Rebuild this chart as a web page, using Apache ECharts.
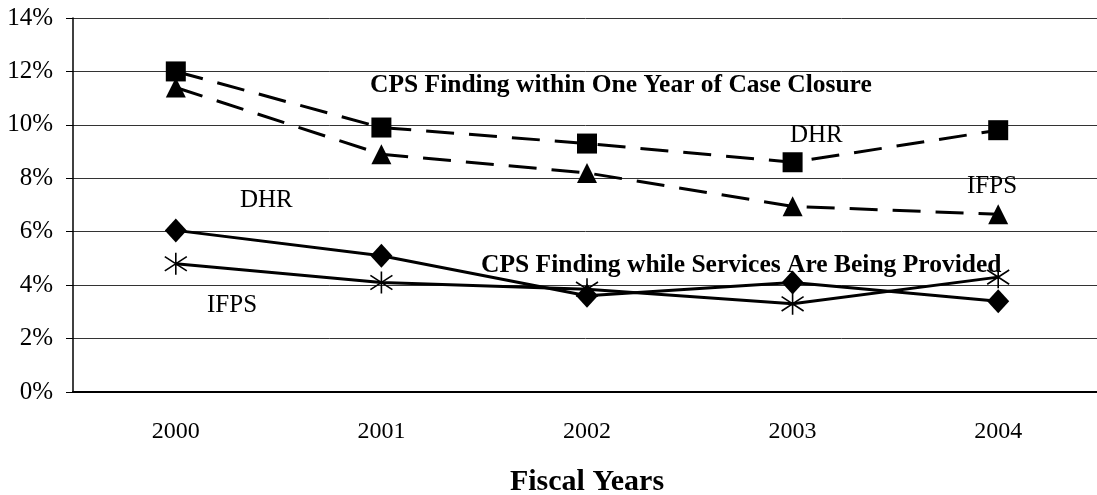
<!DOCTYPE html>
<html>
<head>
<meta charset="utf-8">
<script src="https://cdn.jsdelivr.net/npm/echarts@6/dist/echarts.min.js"></script>
<style>
  html, body { margin: 0; padding: 0; background: #fff; }
  #chart { width: 1097px; height: 495px; }
</style>
</head>
<body>
<div id="chart"></div>
<script>
const years = ['2000', '2001', '2002', '2003', '2004']
const yTicks = [0, 2, 4, 6, 8, 10, 12, 14]

// percent of families with a CPS finding
const dhrAfterClosure = [12.0, 9.9, 9.3, 8.6, 9.8]
const ifpsAfterClosure = [11.4, 8.9, 8.2, 6.95, 6.65]
const dhrDuringServices = [6.05, 5.1, 3.6, 4.1, 3.4]
const ifpsDuringServices = [4.8, 4.1, 3.85, 3.3, 4.3]

const FONT = '"Liberation Serif", serif'
const asterisk = 'path://M10,0 L10,20 M0,3.5 L20,16.5 M0,16.5 L20,3.5'

const chart = echarts.init(document.getElementById('chart'))

const dashedSeries = (name, data, symbol) => ({
  name,
  type: 'line',
  data,
  symbol,
  symbolSize: 20,
  itemStyle: { color: '#000' },
  lineStyle: { color: '#000', width: 3, type: [28, 15] },
  z: 3
})

const option = {
  animation: false,
  grid: {
    left: 73,
    right: -4,
    top: 18,
    bottom: 103,
    outerBoundsMode: 'none'
  },
  xAxis: {
    type: 'category',
    data: years,
    boundaryGap: true,
    name: 'Fiscal Years',
    nameLocation: 'middle',
    nameGap: 75,
    nameTextStyle: {
      fontFamily: FONT,
      fontSize: 30,
      fontWeight: 'bold',
      color: '#000'
    },
    axisLine: { lineStyle: { color: '#000', width: 2 } },
    axisTick: { length: 8, lineStyle: { color: '#000', width: 1 } },
    axisLabel: {
      fontFamily: FONT,
      fontSize: 24,
      color: '#000',
      margin: 28
    },
    splitLine: { show: false }
  },
  yAxis: {
    type: 'value',
    min: yTicks[0],
    max: yTicks[yTicks.length - 1],
    interval: yTicks[1] - yTicks[0],
    axisLine: { show: true, lineStyle: { color: '#000', width: 1.5 } },
    axisTick: { show: true, length: 7, lineStyle: { color: '#000', width: 1 } },
    axisLabel: {
      fontFamily: FONT,
      fontSize: 25,
      color: '#000',
      margin: 20,
      formatter: '{value}%'
    },
    splitLine: { lineStyle: { color: '#333', width: 1 } }
  },
  series: [
    dashedSeries('DHR after closure', dhrAfterClosure, 'rect'),
    dashedSeries('IFPS after closure', ifpsAfterClosure, 'triangle'),
    {
      name: 'DHR during services',
      type: 'line',
      data: dhrDuringServices,
      symbol: 'diamond',
      symbolSize: [22, 24],
      itemStyle: { color: '#000' },
      lineStyle: { color: '#000', width: 3 },
      z: 3
    },
    {
      name: 'IFPS during services',
      type: 'line',
      data: ifpsDuringServices,
      symbol: asterisk,
      symbolSize: 22,
      itemStyle: { color: 'none', borderColor: '#000', borderWidth: 1.6 },
      lineStyle: { color: '#000', width: 3 },
      z: 3
    }
  ],
  graphic: [
    {
      type: 'text', left: 370, top: 72, z: 10,
      style: { text: 'CPS Finding within One Year of Case Closure', font: 'bold 25.5px ' + FONT, fill: '#000' }
    },
    {
      type: 'text', left: 481, top: 252, z: 10,
      style: { text: 'CPS Finding while Services Are Being Provided', font: 'bold 25.5px ' + FONT, fill: '#000' }
    },
    {
      type: 'text', left: 240, top: 188, z: 10,
      style: { text: 'DHR', font: '25px ' + FONT, fill: '#000' }
    },
    {
      type: 'text', left: 207, top: 293, z: 10,
      style: { text: 'IFPS', font: '25px ' + FONT, fill: '#000' }
    },
    {
      type: 'text', left: 790, top: 123, z: 10,
      style: { text: 'DHR', font: '25px ' + FONT, fill: '#000' }
    },
    {
      type: 'text', left: 967, top: 174, z: 10,
      style: { text: 'IFPS', font: '25px ' + FONT, fill: '#000' }
    }
  ]
}

chart.setOption(option)
</script>
</body>
</html>
